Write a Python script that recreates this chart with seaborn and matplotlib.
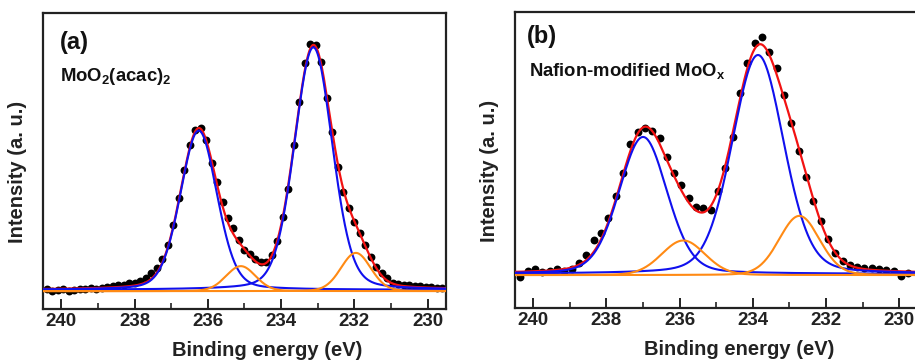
import numpy as np
import pandas as pd
import matplotlib
matplotlib.use("Agg")
import matplotlib.pyplot as plt
from matplotlib.ticker import MultipleLocator
import seaborn as sns

#%% Data

# panel (a) MoO2(acac)2 : measured points, 0.15 eV step from 240.40 eV
start_a, step_a = 240.40, 0.15
counts_a = [0.3, -0.4, -0.2, 0.2, -0.3, 0.1, 0.4, 0.3, 0.6, 0.5,
            0.9, 1.1, 1.4, 1.8, 2.0, 2.7, 3.0, 3.8, 4.8, 6.8,
            8.9, 12.5, 18.4, 26.5, 37.4, 49.0, 59.2, 65.3, 66.0, 61.0,
            51.7, 44.0, 36.0, 29.5, 25.2, 20.4, 16.3, 14.5, 12.5, 11.3,
            11.4, 14.2, 19.8, 29.9, 41.1, 59.2, 76.8, 92.5, 100.4, 100.0,
            93.0, 78.2, 64.6, 50.1, 40.1, 33.3, 27.9, 23.1, 18.4, 13.6,
            9.3, 6.8, 4.8, 3.0, 2.4, 2.0, 1.8, 1.5, 1.6, 1.2,
            1.0, 0.8, 0.9]

# fitted components (a): Mo6+ doublet (blue) and Mo5+ doublet (orange)
centers_a = [233.12, 236.25, 235.10, 231.96]
heights_a = [99.0, 65.0, 10.2, 15.6]
fwhm_a = [1.22, 1.18, 0.95, 0.96]

# panel (b) Nafion-modified MoOx : measured points, 0.2 eV step from 240.35 eV
start_b, step_b = 240.35, 0.20
counts_b = [-1.2, 1.4, 2.0, 1.0, 1.4, 2.0, 1.4, 2.0, 4.9, 8.2,
            14.6, 17.5, 24.0, 33.6, 43.3, 56.0, 61.3, 62.7, 61.7, 58.4,
            50.5, 43.6, 38.3, 32.6, 28.7, 28.3, 27.6, 35.9, 45.5, 58.9,
            77.8, 91.0, 99.3, 101.9, 95.7, 88.6, 77.1, 64.9, 53.1, 41.9,
            31.5, 22.9, 14.9, 8.9, 5.5, 3.9, 3.2, 2.7, 2.4, 2.0,
            1.7, 1.4, -0.9, 0.6]

centers_b = [233.86, 237.00, 235.90, 232.73]
heights_b = [94.3, 59.0, 14.9, 25.5]
fwhm_b = [1.66, 1.55, 1.40, 1.30]

component_kind = ["Mo6+", "Mo6+", "Mo5+", "Mo5+"]
kind_color = {"Mo6+": "#1010ee", "Mo5+": "#ff8a14"}
kind_eta = {"Mo6+": 0.2, "Mo5+": 0.1}

xticks = [240, 238, 236, 234, 232, 230]


def pvoigt(e, center, height, fwhm, eta):
    u = (e - center) / fwhm
    return height * ((1 - eta) * np.exp(-4 * np.log(2) * u ** 2) + eta / (1 + 4 * u ** 2))


sns.set_theme(style="white")
plt.rcParams["font.family"] = ["Liberation Sans", "DejaVu Sans"]
plt.rcParams["font.weight"] = "bold"
plt.rcParams["mathtext.fontset"] = "custom"
plt.rcParams["mathtext.rm"] = "Liberation Sans:bold"
plt.rcParams["mathtext.bf"] = "Liberation Sans:bold"

fig = plt.figure(figsize=(9.15, 3.61), dpi=100)
ax_a = fig.add_axes([0.047, 0.144, 0.4404, 0.820])
ax_b = fig.add_axes([0.5628, 0.146, 0.4400, 0.820])

energy_grid = np.linspace(229.4, 240.6, 800)

panels = [
    (ax_a, start_a, step_a, counts_a, centers_a, heights_a, fwhm_a, (-7.8, 113.0),
     "(a)", r"MoO$_\mathbf{2}$(acac)$_\mathbf{2}$", (0.043, 0.902), (0.043, 0.784)),
    (ax_b, start_b, step_b, counts_b, centers_b, heights_b, fwhm_b, (-14.8, 112.7),
     "(b)", r"Nafion-modified MoO$_\mathbf{x}$", (0.030, 0.918), (0.036, 0.800)),
]

for ax, start, step, counts, centers, heights, fwhms, ylim, tag, name, tag_pos, name_pos in panels:
    energy = start - step * np.arange(len(counts))
    df = pd.DataFrame({"energy": energy, "counts": counts})

    # measured points
    sns.scatterplot(data=df, x="energy", y="counts", ax=ax, color="black",
                    s=32, linewidth=0, zorder=2, legend=False)

    # components and envelope
    total = np.zeros_like(energy_grid)
    comps = []
    for c, h, w, k in zip(centers, heights, fwhms, component_kind):
        y = pvoigt(energy_grid, c, h, w, kind_eta[k])
        total += y
        comps.append((y, k))

    sns.lineplot(x=energy_grid, y=total, ax=ax, color="#f21212", linewidth=1.6, zorder=3)
    for y, k in comps:
        if k == "Mo6+":
            sns.lineplot(x=energy_grid, y=y, ax=ax, color=kind_color[k], linewidth=1.5, zorder=4)
    for y, k in comps:
        if k == "Mo5+":
            sns.lineplot(x=energy_grid, y=y - 0.5, ax=ax, color=kind_color[k], linewidth=1.5, zorder=5)

    ax.set_xlim(240.5, 229.5)
    ax.set_ylim(*ylim)
    ax.set_xticks(xticks)
    ax.xaxis.set_minor_locator(MultipleLocator(1))
    ax.set_yticks([])
    ax.tick_params(axis="x", which="major", direction="in", length=7, width=1.4,
                   labelsize=13.5, pad=3, colors="#222222", bottom=True, top=False)
    ax.tick_params(axis="x", which="minor", direction="in", length=4, width=1.2,
                   bottom=True, top=False, colors="#222222")
    for lab in ax.get_xticklabels():
        lab.set_fontweight("bold")
    for sp in ax.spines.values():
        sp.set_visible(True)
        sp.set_color("#222222")
        sp.set_linewidth(1.6)

    ax.set_xlabel("Binding energy (eV)", fontsize=14.5, fontweight="bold", color="#222222")
    ax.set_ylabel("Intensity (a. u.)", fontsize=14.5, fontweight="bold", color="#222222")
    ax.xaxis.set_label_coords(0.557, -0.108)
    ax.yaxis.set_label_coords(-0.04, 0.463)

    ax.text(tag_pos[0], tag_pos[1], tag, transform=ax.transAxes, fontsize=17,
            fontweight="bold", va="center", ha="left", color="#111111")
    ax.text(name_pos[0], name_pos[1], name, transform=ax.transAxes, fontsize=13.3,
            fontweight="bold", va="center", ha="left", color="#111111")

fig.savefig("out.png", dpi=100)
